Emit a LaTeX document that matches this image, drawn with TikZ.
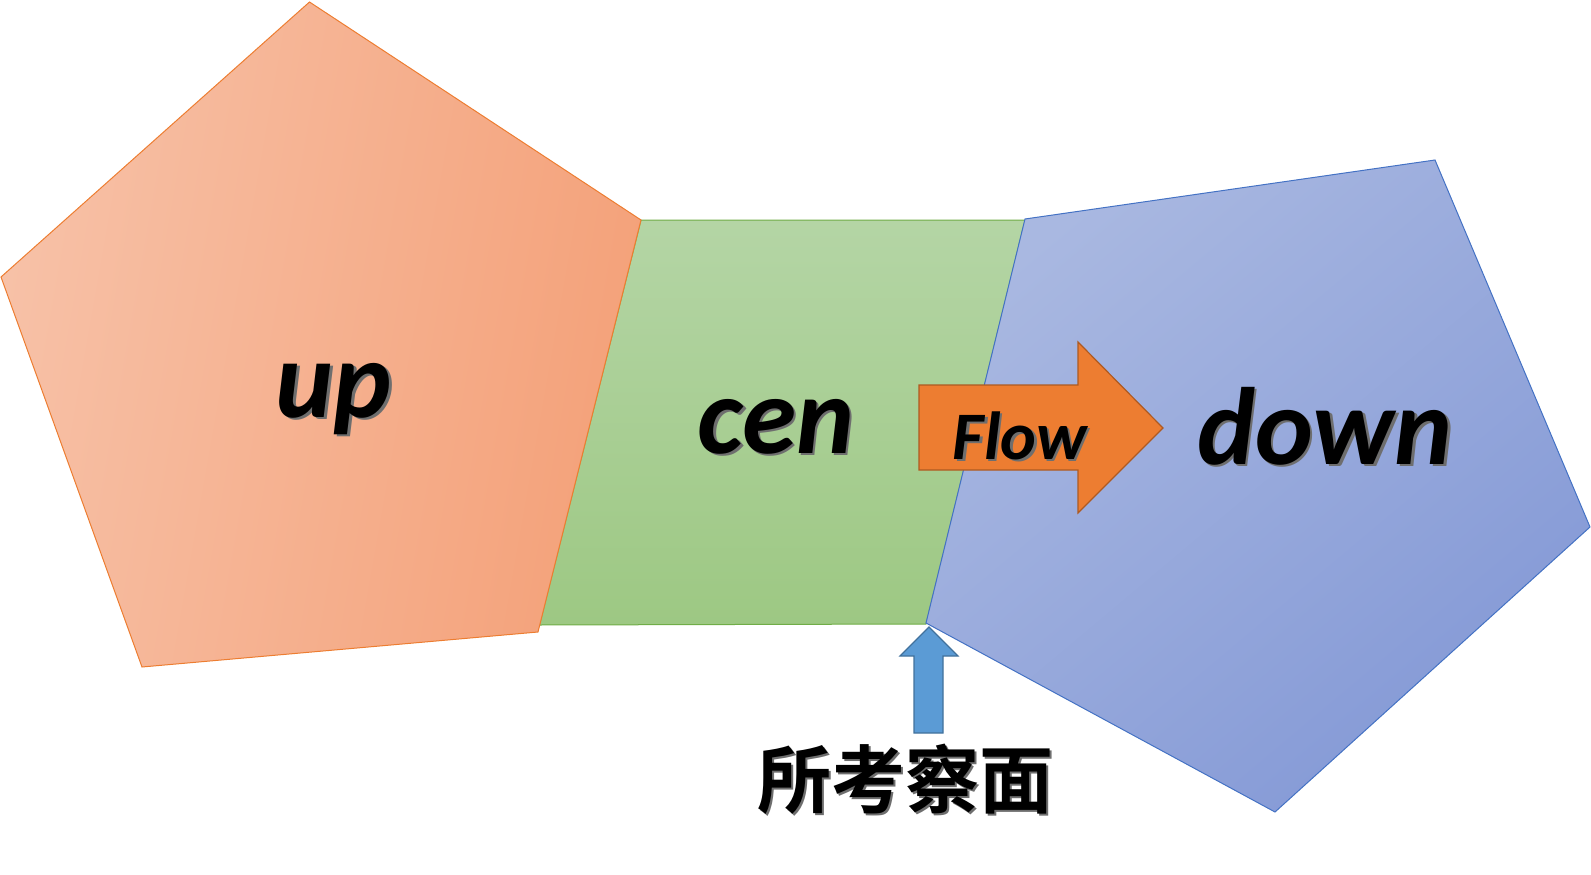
\documentclass[tikz,border=0pt]{standalone}
\usepackage{fontspec}
\setmainfont{Carlito}
\newfontfamily\cjk{Noto Sans CJK SC Bold}
\definecolor{upL}{HTML}{F7C1A7}
\definecolor{upR}{HTML}{F4A179}
\definecolor{upS}{HTML}{ED7D31}
\definecolor{cenT}{HTML}{B4D5A5}
\definecolor{cenB}{HTML}{9DC883}
\definecolor{cenS}{HTML}{70AD47}
\definecolor{dnA}{HTML}{A9B8E1}
\definecolor{dnB}{HTML}{8499D6}
\definecolor{dnS}{HTML}{4472C4}
\definecolor{flowF}{HTML}{ED7D31}
\definecolor{flowS}{HTML}{AE5A21}
\definecolor{blueF}{HTML}{5B9BD5}
\definecolor{blueS}{HTML}{41719C}
\definecolor{shd}{HTML}{6E6E6E}
\newcommand\shtext[1]{\leavevmode\rlap{\kern2.5pt\raisebox{-2.5pt}{\color{shd}#1}}#1}
\tikzset{
  big/.style={font=\fontsize{110}{110}\selectfont\bfseries\itshape, inner sep=0pt, anchor=base},
  flowtxt/.style={font=\fontsize{68}{68}\selectfont\bfseries\itshape, inner sep=0pt, anchor=base},
  cjktxt/.style={font=\cjk\fontsize{74}{74}\selectfont, inner sep=0pt, anchor=base},
}
\begin{document}
\begin{tikzpicture}[x=1pt,y=-1pt]
\useasboundingbox (0,0) rectangle (1591,875);
% cen quadrilateral
\shade[top color=cenT, bottom color=cenB, draw=cenS, line width=1pt]
  (641,220) -- (1025,220) -- (926,624) -- (539.5,625) -- cycle;
% up pentagon
\shade[left color=upL, right color=upR, shading angle=80, draw=upS, line width=1pt]
  (309.5,2) -- (641,220) -- (538,632) -- (142,667) -- (1,277) -- cycle;
% down pentagon
\shade[top color=dnA, bottom color=dnB, shading angle=40, draw=dnS, line width=1pt]
  (1025,219) -- (1435,160) -- (1590,527) -- (1275,812) -- (926,623) -- cycle;
% flow arrow
\draw[fill=flowF, draw=flowS, line width=1.2pt]
  (919,385) -- (1078,385) -- (1078,342) -- (1163,428) -- (1078,513) -- (1078,470) -- (919,470) -- cycle;
% blue up arrow
\draw[fill=blueF, draw=blueS, line width=1.2pt]
  (929,627) -- (958,656) -- (943,656) -- (943,733) -- (914,733) -- (914,656) -- (900,656) -- cycle;
% labels with soft shadows
\node[big] (up) at (334,417) {\shtext{up}};
\node[big] (cen) at (776,453) {\shtext{cen}};
\node[big] (down) at (1325,464) {\shtext{down}};
\node[flowtxt] (flow) at (1020,459) {\shtext{Flow}};
\node[cjktxt] (plane) at (905,807) {\shtext{所考察面}};
\end{tikzpicture}
\end{document}
